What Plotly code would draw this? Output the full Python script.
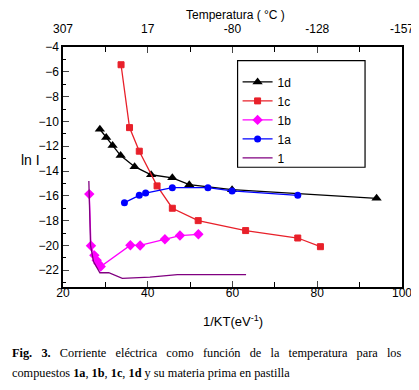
import plotly.graph_objects as go

# Data
x_1d = [28.7, 30.2, 31.7, 33.6, 36.9, 40.8, 45.8, 49.8, 59.9, 94.0]
y_1d = [-10.63, -11.3, -11.95, -12.75, -13.65, -14.3, -14.55, -15.1, -15.5, -16.2]

x_1c = [33.7, 35.7, 38.0, 42.2, 45.8, 51.9, 63.1, 75.4, 80.75]
y_1c = [-5.43, -10.5, -12.4, -15.2, -17.0, -18.0, -18.8, -19.4, -20.1]

x_1b = [26.2, 26.6, 27.4, 27.95, 28.35, 28.9, 35.9, 38.2, 44.05, 47.6, 51.95]
y_1b = [-15.86, -20.03, -20.8, -21.2, -21.46, -21.7, -19.98, -20.0, -19.5, -19.2, -19.1]

x_1a = [34.5, 38.0, 39.5, 45.8, 54.2, 59.9, 75.4]
y_1a = [-16.55, -15.96, -15.78, -15.34, -15.34, -15.6, -15.96]

x_1 = [26.1, 26.5, 27.2, 28.7, 30.8, 34.0, 40.5, 47.0, 63.2]
y_1 = [-14.8, -20.0, -21.3, -22.2, -22.2, -22.65, -22.55, -22.35, -22.35]

bottom_ticks = [20, 40, 60, 80, 100]
top_tick_labels = ["307", "17", "-80", "-128", "-157"]
y_ticks = [-4, -6, -8, -10, -12, -14, -16, -18, -20, -22]

FONT = "Liberation Sans, Arial, sans-serif"
SERIF = "Liberation Serif, Times New Roman, serif"

fig = go.Figure()
fig.add_trace(go.Scatter(x=x_1d, y=y_1d, name="1d", mode="lines+markers",
                         line=dict(color="black", width=1.3),
                         marker=dict(symbol="triangle-up", size=9, color="black")))
fig.add_trace(go.Scatter(x=x_1c, y=y_1c, name="1c", mode="lines+markers",
                         line=dict(color="#e8202a", width=1.3),
                         marker=dict(symbol="square", size=6, color="#e8202a",
                                     line=dict(color="#e8202a", width=1))))
fig.add_trace(go.Scatter(x=x_1b, y=y_1b, name="1b", mode="lines+markers",
                         line=dict(color="#ff00ff", width=1.3),
                         marker=dict(symbol="diamond", size=8, color="#ff00ff")))
fig.add_trace(go.Scatter(x=x_1a, y=y_1a, name="1a", mode="lines+markers",
                         line=dict(color="#0000ff", width=1.3),
                         marker=dict(symbol="circle", size=7, color="#0000ff")))
fig.add_trace(go.Scatter(x=x_1, y=y_1, name="1", mode="lines",
                         line=dict(color="#800080", width=1.3)))
# invisible trace to anchor top axis
fig.add_trace(go.Scatter(x=bottom_ticks, y=[-4] * len(bottom_ticks), xaxis="x2",
                         mode="markers", marker=dict(opacity=0), showlegend=False,
                         hoverinfo="skip"))

fig.update_layout(
    width=419, height=390,
    margin=dict(l=54.5, r=25, t=39, b=111),
    paper_bgcolor="white", plot_bgcolor="white",
    font=dict(family=FONT, size=12, color="black"),
    xaxis=dict(range=[20, 100], tickvals=bottom_ticks, ticks="inside", ticklen=6,
               showline=True, linecolor="black", linewidth=1.5, mirror=False,
               showgrid=False, zeroline=False, ticklabelstandoff=-6, automargin=False,
               minor=dict(ticks="inside", dtick=10, tick0=0, ticklen=5, tickcolor="black"),
               tickfont=dict(size=12)),
    xaxis2=dict(range=[20, 100], tickvals=bottom_ticks, ticktext=top_tick_labels,
                overlaying="x", side="top", ticks="inside", ticklen=6,
                showline=True, linecolor="black", linewidth=1.5,
                showgrid=False, zeroline=False, ticklabelstandoff=7, automargin=False,
                minor=dict(ticks="inside", dtick=10, tick0=0, ticklen=5, tickcolor="black"),
                tickfont=dict(size=12)),
    yaxis=dict(range=[-23.35, -4], tickvals=y_ticks, ticks="inside", ticklen=6,
               showline=True, linecolor="black", linewidth=1.5, mirror=True,
               showgrid=False, zeroline=False, automargin=False,
               minor=dict(ticks="inside", dtick=1, tick0=0, ticklen=3, tickcolor="black"),
               tickfont=dict(size=12)),
    legend=dict(x=0.515, y=0.915, xanchor="left", yanchor="top",
                borderwidth=0, bgcolor="rgba(0,0,0,0)",
                font=dict(size=12), tracegroupgap=0, itemwidth=30,
                traceorder="normal"),
    showlegend=True,
)

# legend frame
fig.add_shape(type="rect", xref="paper", yref="paper",
              x0=0.515, x1=0.891, y0=0.499, y1=0.943,
              line=dict(color="black", width=1.2), fillcolor="rgba(0,0,0,0)", layer="above")

fig.add_annotation(text="Temperatura ( °C )", x=0.51, y=1, xref="paper", yref="paper",
                   yshift=32, showarrow=False, font=dict(size=12),
                   yanchor="middle", xanchor="center")
fig.add_annotation(text="1/KT(eV<sup>-1</sup>)", x=0.5, y=0, xref="paper", yref="paper",
                   yshift=-34, showarrow=False, font=dict(size=13), yanchor="middle")
fig.add_annotation(text="ln I", x=0, y=0.53, xref="paper", yref="paper",
                   xshift=-21, showarrow=False, font=dict(size=14),
                   xanchor="right", yanchor="middle")

G = " \u2002"  # widened word gap to imitate the justified first line
caption_line1 = G.join(["<b>Fig.</b>", "<b>3.</b>", "Corriente", "eléctrica", "como",
                        "función", "de", "la", "temperatura", "para", "los"])
caption_line2 = ("compuestos <b>1a</b>, <b>1b</b>, <b>1c</b>, <b>1d</b> "
                 "y su materia prima en pastilla")
fig.add_annotation(text=caption_line1, x=0, y=0, xref="paper", yref="paper",
                   xshift=-53, yshift=-66, showarrow=False, align="left",
                   xanchor="left", yanchor="middle", font=dict(family=SERIF, size=12.3))
fig.add_annotation(text=caption_line2, x=0, y=0, xref="paper", yref="paper",
                   xshift=-53, yshift=-86, showarrow=False, align="left",
                   xanchor="left", yanchor="middle", font=dict(family=SERIF, size=12.3))

fig.write_html("out.html")
